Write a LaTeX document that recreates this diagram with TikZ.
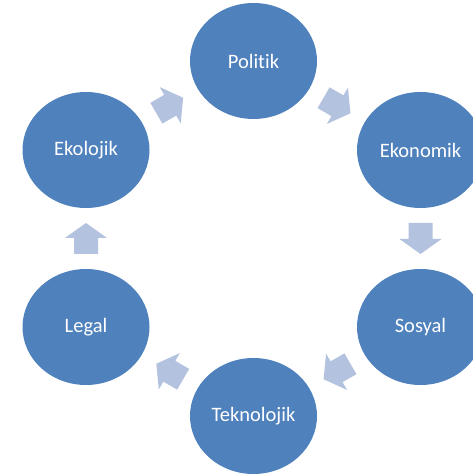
\documentclass[tikz,border=0pt]{standalone}
\usepackage{fontspec}
\setmainfont{Carlito}[Ligatures=NoCommon]
\usetikzlibrary{shapes.geometric,calc}
\definecolor{bubblue}{HTML}{4F81BD}
\definecolor{arrowblue}{HTML}{B3C2DE}
\tikzset{
  bub/.style={ellipse, fill=bubblue, text=white, minimum width=127pt, minimum height=116pt, inner sep=0pt, font=\fontsize{20.5}{24}\selectfont},
  cycarrow/.pic={\fill[arrowblue] (-15.5pt,-12pt) -- (0.5pt,-12pt) -- (0.5pt,-21pt) -- (15.5pt,0pt) -- (0.5pt,21pt) -- (0.5pt,12pt) -- (-15.5pt,12pt) -- cycle;}
}
\begin{document}
\begin{tikzpicture}[x=1pt,y=1pt]
\useasboundingbox (0,0) rectangle (473,476);
\clip (0,0) rectangle (473,476);
\node[bub] (pol) at (253.5,415) {Politik};
\node[bub] (eko) at (420.5,326) {Ekonomik};
\node[bub] (sos) at (420.5,149) {Sosyal};
\node[bub] (tek) at (253.5,60) {Teknolojik};
\node[bub] (leg) at (86,149) {Legal};
\node[bub] (ekol) at (86,326) {Ekolojik};
\pic[rotate=30] at ($(ekol)!0.5!(pol)$) {cycarrow};
\pic[rotate=-30] at ($(pol)!0.5!(eko)$) {cycarrow};
\pic[rotate=-90] at ($(eko)!0.5!(sos)$) {cycarrow};
\pic[rotate=-150] at ($(sos)!0.5!(tek)$) {cycarrow};
\pic[rotate=150] at ($(tek)!0.5!(leg)$) {cycarrow};
\pic[rotate=90] at ($(leg)!0.5!(ekol)$) {cycarrow};
\end{tikzpicture}
\end{document}
